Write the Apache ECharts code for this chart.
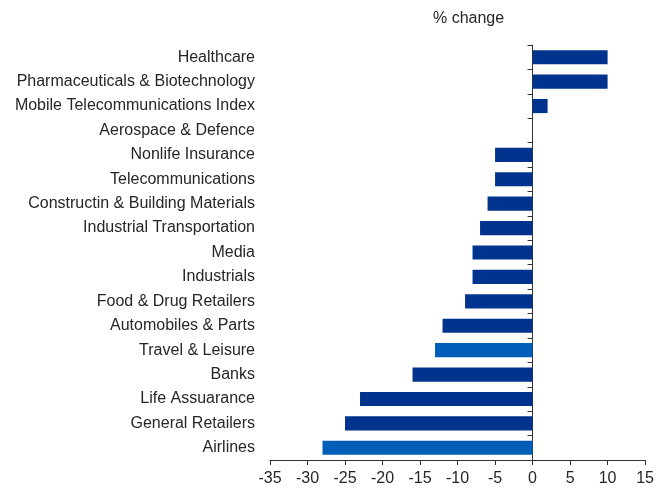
<!DOCTYPE html>
<html>
<head>
<meta charset="utf-8">
<script src="https://cdn.jsdelivr.net/npm/echarts@6/dist/echarts.min.js"></script>
<style>
html,body{margin:0;padding:0;background:#fff;}
#chart{width:657px;height:489px;}
</style>
</head>
<body>
<div id="chart"></div>
<script>
var categories = [
  "Healthcare",
  "Pharmaceuticals & Biotechnology",
  "Mobile Telecommunications Index",
  "Aerospace & Defence",
  "Nonlife Insurance",
  "Telecommunications",
  "Constructin & Building Materials",
  "Industrial Transportation",
  "Media",
  "Industrials",
  "Food & Drug Retailers",
  "Automobiles & Parts",
  "Travel & Leisure",
  "Banks",
  "Life Assuarance",
  "General Retailers",
  "Airlines"
];
var values = [10, 10, 2, 0, -5, -5, -6, -7, -8, -8, -9, -12, -13, -16, -23, -25, -28];
var highlighted = ["Travel & Leisure", "Airlines"];
var xTicks = { min: -35, max: 15, step: 5 };
var unitLabel = "% change";

var FONT = "Liberation Sans, Arial, sans-serif";
var TEXT = "#262626";
var AXIS = "#333333";

var chart = echarts.init(document.getElementById('chart'));
chart.setOption({
  animation: false,
  backgroundColor: '#ffffff',
  grid: { left: 270, right: 10, top: 45, bottom: 29, containLabel: false },
  graphic: [{
    type: 'text', left: 433, top: 11,
    style: { text: unitLabel, font: '16px ' + FONT, fill: TEXT }
  }],
  xAxis: {
    type: 'value', min: xTicks.min, max: xTicks.max, interval: xTicks.step,
    axisLine: { show: true, lineStyle: { color: AXIS, width: 1 } },
    axisTick: { show: true, length: 5, lineStyle: { color: AXIS } },
    axisLabel: { fontSize: 16, fontFamily: FONT, color: TEXT, margin: 11 },
    splitLine: { show: false }
  },
  yAxis: [{
    type: 'category', data: categories, inverse: true, position: 'left',
    axisLine: { show: false, onZero: false },
    axisTick: { show: false },
    axisLabel: { fontSize: 16, fontFamily: FONT, color: TEXT, margin: 15 },
    splitLine: { show: false }
  }, {
    type: 'category', data: categories, inverse: true, position: 'left',
    axisLine: { show: true, onZero: true, lineStyle: { color: AXIS, width: 1 } },
    axisTick: { show: true, length: 5, lineStyle: { color: AXIS } },
    axisLabel: { show: false },
    splitLine: { show: false }
  }],
  series: [{
    type: 'bar', yAxisIndex: 0,
    data: values,
    barCategoryGap: '42%',
    itemStyle: {
      color: function (p) {
        return highlighted.indexOf(categories[p.dataIndex]) >= 0 ? '#005EB8' : '#00338D';
      }
    }
  }]
});
</script>
</body>
</html>
